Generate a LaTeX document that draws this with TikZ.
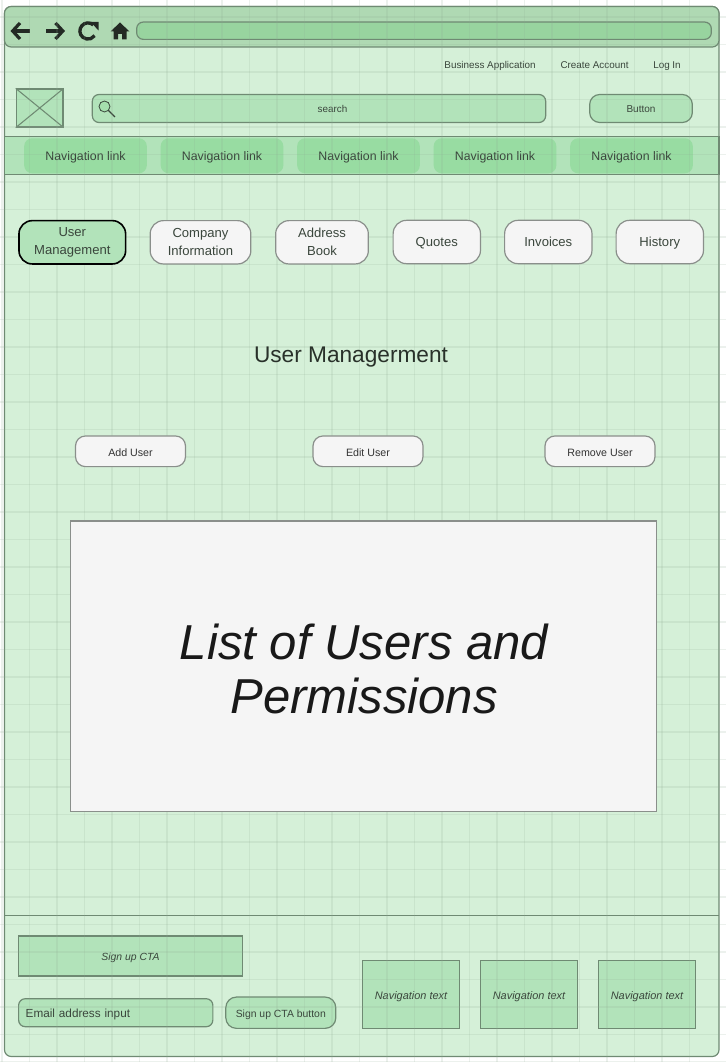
\documentclass[tikz,border=0pt]{standalone}
\usepackage{fontspec}
\setmainfont{Liberation Sans}
\usetikzlibrary{arrows.meta,positioning,calc}
\definecolor{pagegreen}{HTML}{D5F0D8}
\definecolor{barfill}{HTML}{AFD9B3}
\definecolor{boxfill}{HTML}{B2E3BA}
\definecolor{linkfill}{HTML}{98DCA2}
\definecolor{urlfill}{HTML}{98D49F}
\definecolor{edge}{HTML}{6F8A73}
\definecolor{ink}{HTML}{3A463C}
\definecolor{tabfill}{HTML}{F5F5F5}
\definecolor{tabedge}{HTML}{8A8F8B}
\definecolor{gridline}{HTML}{8FA893}
\tikzset{
  capline/.style={text height=0.72em,text depth=0pt},
  shell/.style={draw=edge,line width=0.9pt},
  widebox/.style={shell,fill=boxfill,text=ink,inner sep=0pt,align=center},
  softbox/.style={widebox,rounded corners=5pt},
  linkbox/.style={capline,fill=linkfill,rounded corners=6pt,text=ink,inner sep=0pt,minimum width=92pt,minimum height=26.3pt,font=\fontsize{9.25}{11}\selectfont},
  tabbox/.style={draw=tabedge,line width=0.9pt,fill=tabfill,rounded corners=10pt,text=ink,inner sep=0pt,align=center,minimum height=32.5pt,font=\fontsize{9.8}{13.5}\selectfont},
  actionbox/.style={capline,draw=tabedge,line width=0.9pt,fill=tabfill,rounded corners=7.5pt,text=black!80,inner sep=0pt,minimum width=82.5pt,minimum height=23pt,font=\fontsize{8}{9}\selectfont},
  toplabel/.style={capline,text=ink,inner sep=0pt,font=\fontsize{7.4}{9}\selectfont},
  navbox/.style={widebox,capline,minimum width=73pt,minimum height=51pt,font=\itshape\fontsize{8.2}{9}\selectfont},
  icon/.style={draw=ink!60!black,line width=2.4pt,-{Straight Barb[length=5.5pt,width=12pt]}},
  gridrule/.style={gridline,opacity=0.16,line width=0.9pt}
}
\begin{document}
\begin{tikzpicture}[x=0.75pt,y=-0.75pt]
  \useasboundingbox (0,0) rectangle (726,1062);
  \fill[white] (0,0) rectangle (726,1062);
  % page
  \draw[shell,fill=pagegreen,rounded corners=5pt] (4.5,6.5) rectangle (719,1056.5);
  % browser bar
  \draw[shell,fill=barfill,rounded corners=5pt] (4.5,6.5) rectangle (719,47);
  \node[widebox,fill=urlfill,rounded corners=5pt,minimum width=431pt,minimum height=13pt] (urlbar) at (424,30.7) {};
  \coordinate (backend) at (10.5,31); \coordinate (backstart) at (29.5,31);
  \coordinate (fwdend) at (65,31); \coordinate (fwdstart) at (46,31);
  \draw[icon] (backstart) -- (backend);
  \draw[icon] (fwdstart) -- (fwdend);
  \draw[ink!60!black,line width=2.5pt] (93.2,24.8) arc[start angle=-50,end angle=-325,radius=8.1];
  \fill[ink!60!black] (90.5,21.8) -- (98.5,21.8) -- (98.5,30.5) -- cycle;
  \fill[ink!60!black] (120,22.5) -- (129.5,31.5) -- (126.5,31.5) -- (126.5,39.5) -- (122,39.5) -- (122,34) -- (118,34) -- (118,39.5) -- (113.5,39.5) -- (113.5,31.5) -- (110.5,31.5) -- cycle;
  % header links
  \node[toplabel] (bizlink) at (490,63.7) {Business Application};
  \node[toplabel] (acctlink) at (594.5,63.7) {Create Account};
  \node[toplabel] (loginlink) at (667,63.7) {Log In};
  % logo
  \node[widebox,minimum width=35pt,minimum height=28.5pt] (logo) at (39.7,108) {};
  \draw[edge,line width=0.8pt] (logo.north west) -- (logo.south east) (logo.north east) -- (logo.south west);
  % search
  \node[softbox,minimum width=340pt,minimum height=21pt] (searchbar) at (319,108.5) {};
  \node[toplabel] (searchtext) at (332.5,107.5) {search};
  \draw[ink,line width=0.6pt,fill=boxfill!50!linkfill] (104.5,106.5) circle[radius=5.5];
  \draw[ink,line width=1pt] (108.5,110.5) -- (115,117);
  \node[softbox,rounded corners=7.5pt,minimum width=77pt,minimum height=21pt] (headbtn) at (641,108.5) {};
  \node[toplabel,font=\fontsize{7.5}{9}\selectfont] (headtext) at (641,107.5) {Button};
  % nav strip
  \draw[shell,fill=boxfill] (4.5,136.5) rectangle (719,174.7);
  \foreach \x/\n in {85.5/a,222/b,358.5/c,495/d,631.5/e} {
    \node[linkbox] (nav\n) at (\x,155.8) {Navigation link};
  }
  % footer
  \draw[shell] (4.5,915.5) -- (719,915.5);
  \node[widebox,capline,minimum width=168.5pt,minimum height=30pt,font=\itshape\fontsize{7.8}{9}\selectfont] (ctabox) at (130.5,956) {Sign up CTA};
  \node[softbox,capline,anchor=west,minimum width=145.7pt,minimum height=21pt,text width=135pt,align=left,font=\fontsize{8.8}{10}\selectfont] (emailbox) at (18,1012.7) {Email address input};
  \node[softbox,capline,rounded corners=8pt,minimum width=82.5pt,minimum height=23.5pt,font=\fontsize{7.8}{9}\selectfont] (ctabtn) at (280.8,1012.7) {Sign up CTA button};
  \foreach \x/\n in {411/a,529/b,647/c} {
    \node[navbox] (foot\n) at (\x,994.2) {Navigation text};
  }
  % grid
  \foreach \i in {0,...,25} {
    \draw[gridrule] (2+27.5*\i,0) -- (2+27.5*\i,1062);
  }
  \foreach \i in {-2,...,36} {
    \draw[gridrule] (0,72+27.5*\i) -- (726,72+27.5*\i);
  }
  % tabs
  \node[tabbox,fill=boxfill,draw=black,line width=1.2pt,minimum width=80pt] (tabuser) at (72.3,242.3) {User\\Management};
  \node[tabbox,minimum width=75.5pt] (tabcomp) at (200.5,242.3) {Company\\Information};
  \node[tabbox,minimum width=69.5pt] (tabaddr) at (322,242.3) {Address\\Book};
  \node[tabbox,capline,minimum width=65.5pt] (tabquote) at (436.8,242) {Quotes};
  \node[tabbox,capline,minimum width=65.5pt] (tabinv) at (548.3,242) {Invoices};
  \node[tabbox,capline,minimum width=65.5pt] (tabhist) at (659.8,242) {History};
  % heading
  \node[text=ink!70!black,inner sep=0pt,font=\fontsize{17}{18}\selectfont] (pagetitle) at (351,357.5) {User Managerment};
  \node[actionbox] (adduser) at (130.5,451.3) {Add User};
  \node[actionbox] (edituser) at (368,451.3) {Edit User};
  \node[actionbox] (removeuser) at (600,451.3) {Remove User};
  % user list
  \node[draw=tabedge,line width=0.9pt,fill=tabfill,inner sep=0pt,minimum width=439.5pt,minimum height=218pt] (userlist) at (363.5,666.4) {};
  \node[text=black!90,inner sep=0pt,align=center,font=\itshape\fontsize{36.8}{40.5}\selectfont] (listtext) at (364,669) {List of Users and\\Permissions};
\end{tikzpicture}
\end{document}
